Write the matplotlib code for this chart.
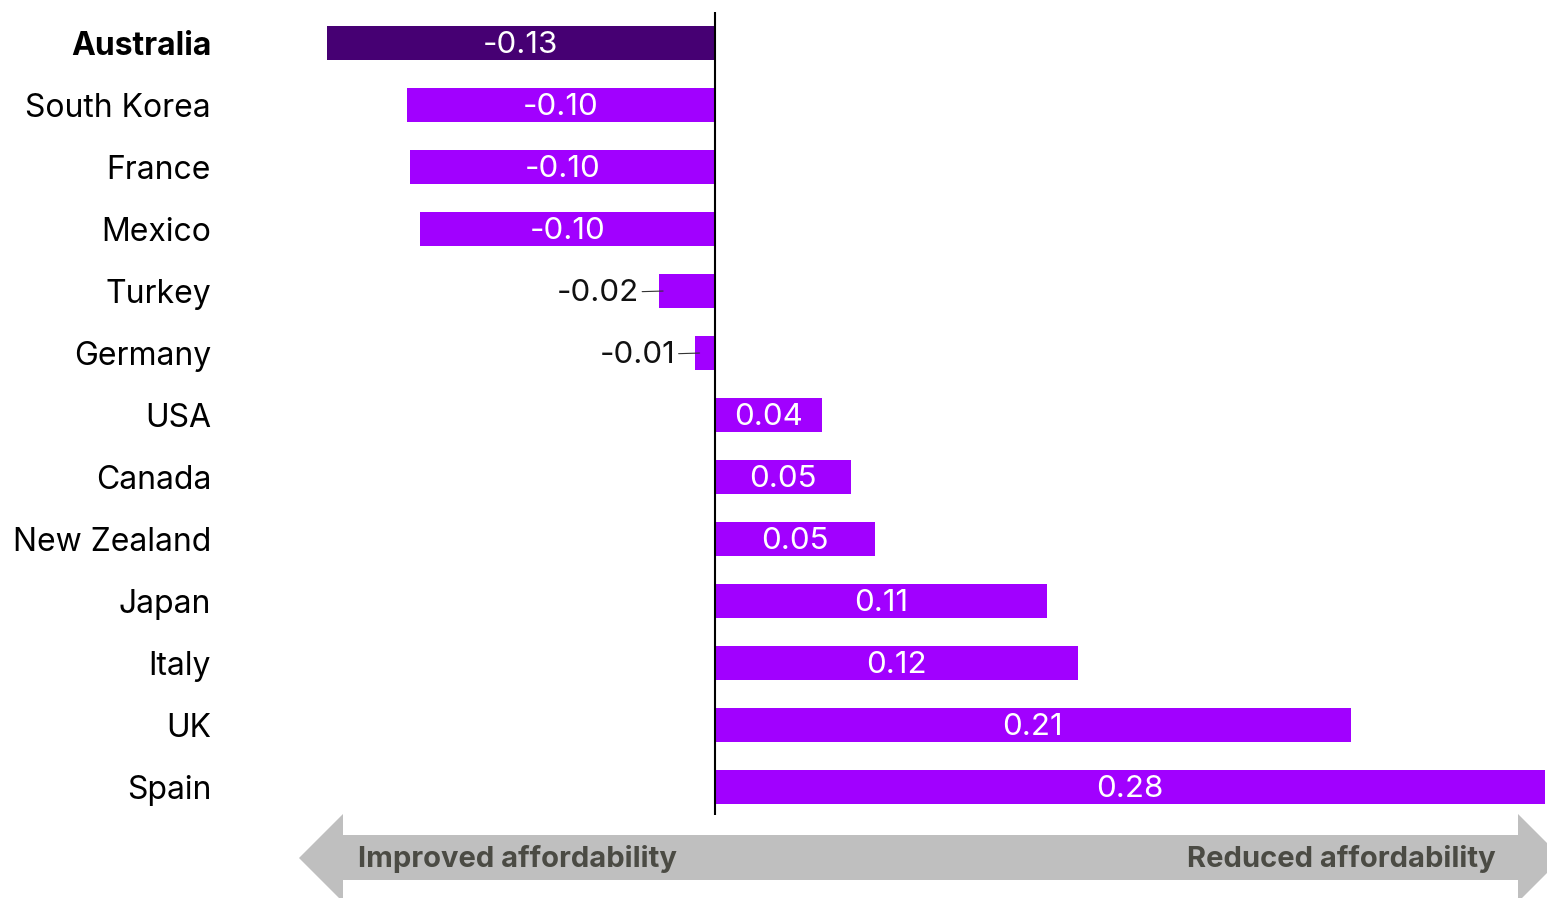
import matplotlib
matplotlib.use("Agg")
import matplotlib.pyplot as plt
from matplotlib.patches import Polygon

countries = ["Australia", "South Korea", "France", "Mexico", "Turkey", "Germany", "USA",
             "Canada", "New Zealand", "Japan", "Italy", "UK", "Spain"]
values = [-0.131, -0.104, -0.103, -0.0995, -0.019, -0.0067, 0.036,
          0.046, 0.054, 0.112, 0.1225, 0.2145, 0.28]
labels = ["-0.13", "-0.10", "-0.10", "-0.10", "-0.02", "-0.01", "0.04",
          "0.05", "0.05", "0.11", "0.12", "0.21", "0.28"]
highlight = "Australia"

plt.rcParams["font.family"] = ["Inter", "DejaVu Sans"]

fig = plt.figure(figsize=(15.47, 8.98), dpi=100)
ax = fig.add_axes([300 / 1547, 1 - 815 / 898, 1247 / 1547, (815 - 12) / 898])

colors = ["#460073" if c == highlight else "#A100FF" for c in countries]
ypos = list(range(len(countries)))
ax.barh(ypos, values, height=0.55, color=colors)

ax.set_xlim(-0.14, 0.2807)
ax.set_ylim(12.45, -0.5)
ax.axvline(0, color="black", linewidth=1.5)

for y, v, label in zip(ypos, values, labels):
    if abs(v) < 0.03:
        ax.annotate(label, xy=(v + 0.0015, y), xytext=(v - 0.0065, y + 0.03),
                    ha="right", va="center", fontsize=22.5, color="#111111",
                    arrowprops=dict(arrowstyle="-", color="#333333", lw=0.8,
                                    shrinkA=0, shrinkB=0))
    else:
        ax.text(v / 2, y + 0.03, label, ha="center", va="center", fontsize=22.5,
                color="white")

ax.set_yticks(ypos)
ax.set_yticklabels(countries, fontsize=23)
for lbl in ax.get_yticklabels():
    if lbl.get_text() == highlight:
        lbl.set_fontweight("bold")
ax.tick_params(axis="y", length=0, pad=64)
ax.set_xticks([])
for s in ax.spines.values():
    s.set_visible(False)

# double arrow at the bottom
W, H = 1547.0, 898.0
pts = [(299, 858), (343, 814), (343, 835), (1518, 835), (1518, 814), (1562, 858),
       (1518, 902), (1518, 880), (343, 880), (343, 902)]
poly = Polygon([(x / W, 1 - y / H) for x, y in pts], closed=True,
               facecolor="#BFBFBF", edgecolor="none", transform=fig.transFigure)
fig.patches.append(poly)
fig.text(358 / W, 1 - 859 / H, "Improved affordability", ha="left", va="center",
         fontsize=21, fontweight="bold", color="#4B4B44")
fig.text(1496 / W, 1 - 859 / H, "Reduced affordability", ha="right", va="center",
         fontsize=21, fontweight="bold", color="#4B4B44")

fig.savefig("out.png", dpi=100)
